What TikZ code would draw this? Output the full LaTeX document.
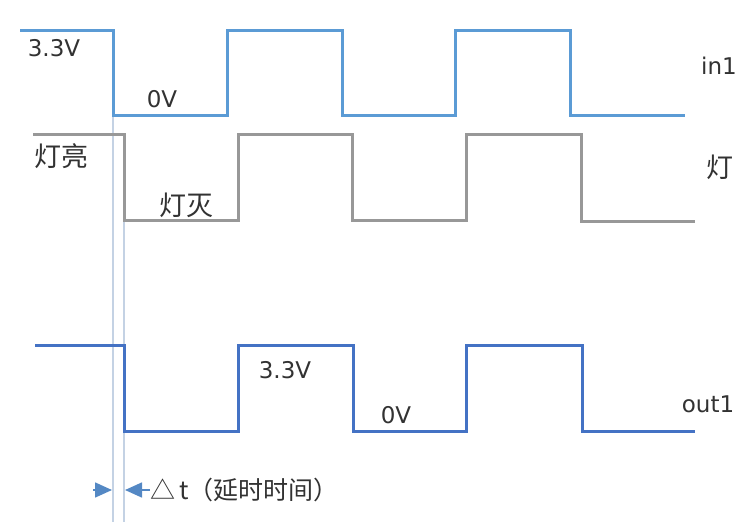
\documentclass[tikz,border=0pt]{standalone}
\usepackage{fontspec}
\setmainfont{DejaVu Sans}
\newfontfamily\cjk{Noto Sans CJK SC}
\usetikzlibrary{arrows.meta}
\definecolor{inblue}{RGB}{91,155,213}
\definecolor{outblue}{RGB}{68,114,196}
\definecolor{lampgray}{RGB}{152,152,152}
\definecolor{guide}{RGB}{196,210,228}
\definecolor{txt}{RGB}{50,50,50}
\definecolor{arrowblue}{RGB}{84,136,196}

\begin{document}
\begin{tikzpicture}[x=1pt,y=-1pt,line join=miter]
\useasboundingbox (0,0) rectangle (741,522);
\tikzset{
  wave/.style={line width=3pt},
  lbl/.style={text=txt,inner sep=0pt,font=\fontsize{23}{26}\selectfont},
  cjklbl/.style={text=txt,inner sep=0pt,font=\fontsize{27}{30}\selectfont\cjk},
}
\coordinate (T1) at (113,115);
\coordinate (B1) at (113,522);
\coordinate (T2) at (124,220);
\coordinate (B2) at (124,522);
\coordinate (dtL) at (112,490);
\coordinate (dtR) at (125,490);
\coordinate (dtS) at (93,490);
% guide lines
\draw[guide,line width=1.2pt] (T1)--(B1);
\draw[guide,line width=1.2pt] (T2)--(B2);
% in1
\draw[wave,inblue] (20,30)--(113,30)--(113,115)--(227,115)--(227,30)--(342,30)--(342,115)
  --(455,115)--(455,30)--(570,30)--(570,115)--(685,115);
% lamp
\draw[wave,lampgray] (33,134)--(124,134)--(124,220)--(238,220)--(238,134)--(352,134)--(352,220)
  --(466,220)--(466,134)--(581,134)--(581,221)--(695,221);
% out1
\draw[wave,outblue] (35,345)--(124,345)--(124,431)--(238,431)--(238,345)--(353,345)--(353,431)
  --(466,431)--(466,345)--(582,345)--(582,431)--(695,431);
\node[lbl] (hi1) at (54,48) {3.3V};
\node[lbl] (lo1) at (162,99) {0V};
\node[lbl] (in1) at (719,66) {in1};
\node[cjklbl] (on) at (61,156) {灯亮};
\node[cjklbl] (off) at (186,205) {灯灭};
\node[cjklbl] (lamp) at (720,167) {灯};
\node[lbl] (hi2) at (285,370) {3.3V};
\node[lbl] (lo2) at (396,415) {0V};
\node[lbl] (out1) at (708,404) {out1};
\node[cjklbl,anchor=west,font=\fontsize{25}{28}\selectfont\cjk] (dt) at (150,490) {△\,t（延时时间）};
\draw[arrowblue,line width=1.6pt,-{Triangle[length=17pt,width=15pt]}] (dtS)--(dtL);
\draw[arrowblue,line width=1.6pt,-{Triangle[length=17pt,width=15pt]}] (dt.west)--(dtR);
\end{tikzpicture}
\end{document}
